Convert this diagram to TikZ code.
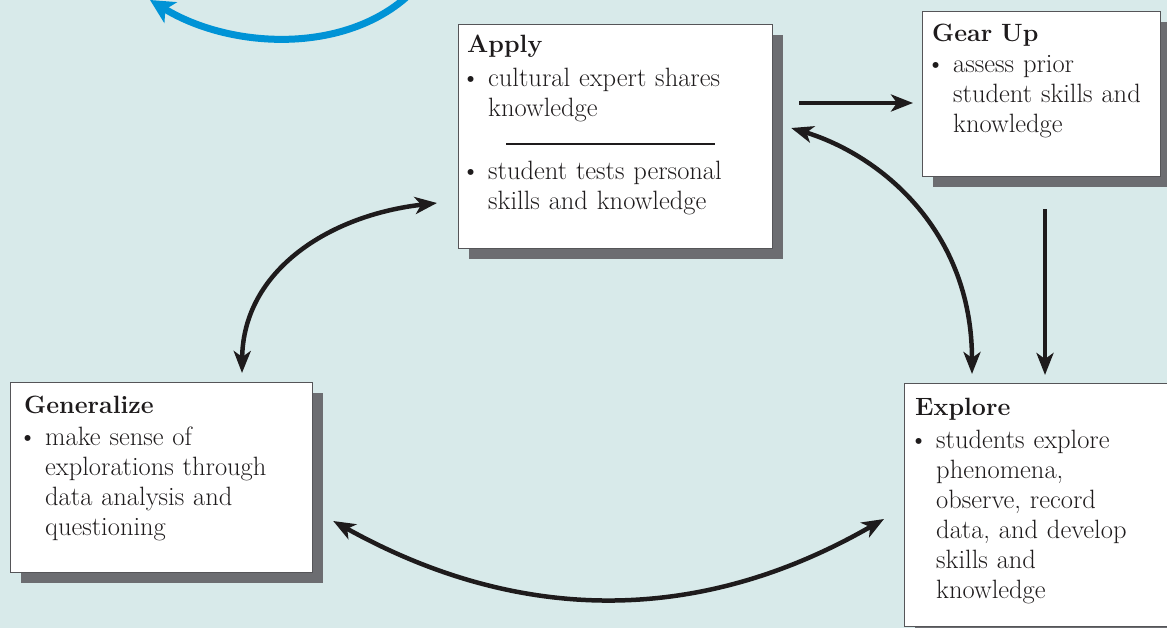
\documentclass[tikz,border=0pt]{standalone}
\usetikzlibrary{arrows.meta,shadows,calc}
\definecolor{bg}{RGB}{216,234,234}
\definecolor{shade}{RGB}{108,109,113}
\definecolor{ink}{RGB}{30,27,28}
\definecolor{bluearc}{RGB}{0,147,214}
\definecolor{frame}{RGB}{85,85,88}
\newcommand\bul[1]{\par\hangindent=21pt\hangafter=0\noindent\llap{\textbullet\hspace{8pt}}#1\par}
\newcommand\ttl[1]{{\fontsize{25}{30}\selectfont\bfseries #1}\par}
\begin{document}
\begin{tikzpicture}[x=1pt,y=-1pt,
  box/.style={draw=frame, line width=1.2pt, fill=white, inner sep=0pt, anchor=north west,
    drop shadow={shadow xshift=10pt, shadow yshift=-10pt, fill=shade, opacity=1}},
  txt/.style={anchor=base west, inner sep=0pt, text width=320pt, align=left, text=ink,
    font=\fontsize{26.5}{30}\selectfont},
  >={Stealth[length=22pt,width=17pt,inset=6pt]},
  conn/.style={draw=ink, line width=4.5pt},
  bluec/.style={draw=bluearc, line width=7pt, -{Stealth[length=24pt,width=24pt,inset=6pt]}}
]
\useasboundingbox (0,0) rectangle (1167,628);
\clip (0,0) rectangle (1167,628);
\fill[bg] (0,0) rectangle (1167,628);

% blue arc (continuation from outside)
\coordinate (blueStart) at (414,-10);
\coordinate (blueEnd) at (150,0);
\draw[bluec] (blueStart) .. controls (350,55) and (232,50) .. (blueEnd);

% boxes
\node[box, minimum width=314pt, minimum height=224pt] (applyBox) at (458,24) {};
\node[box, minimum width=238pt, minimum height=165pt] (gearBox) at (922,11) {};
\node[box, minimum width=302pt, minimum height=190pt] (genBox) at (10,382) {};
\node[box, minimum width=280pt, minimum height=243pt] (expBox) at (904,383) {};

% texts
\node[txt] (applyText) at (467,53) {\ttl{Apply}\vspace{4pt}%
  \bul{cultural expert shares\newline knowledge}\vspace{33pt}%
  \bul{student tests personal\newline skills and knowledge}};
\draw[ink, line width=2.5pt] ($(applyBox.north west)+(48,120)$) -- ($(applyBox.north west)+(257,120)$);

\node[txt] (gearText) at (932,42) {\ttl{Gear Up}\vspace{1pt}%
  \bul{assess prior\newline student skills and\newline knowledge}};

\node[txt] (genText) at (24,413) {\ttl{Generalize}\vspace{2pt}%
  \bul{make sense of\newline explorations through\newline data analysis and\newline questioning}};

\node[txt] (expText) at (915,415) {\ttl{Explore}\vspace{3pt}%
  \bul{students explore\newline phenomena,\newline observe, record\newline data, and develop\newline skills and\newline knowledge}};

% connector end points
\coordinate (p1) at ($(applyBox.north east)+(26,79)$);
\coordinate (p2) at ($(gearBox.north west)+(-9,92)$);
\coordinate (p3) at ($(gearBox.south west)+(123,32)$);
\coordinate (p4) at ($(expBox.north west)+(141,-8)$);
\coordinate (p5) at ($(applyBox.north east)+(18,104)$);
\coordinate (p6) at ($(expBox.north west)+(68,-9)$);
\coordinate (p7) at ($(applyBox.north west)+(-21,179)$);
\coordinate (p8) at ($(genBox.north west)+(232,-9)$);
\coordinate (p9) at ($(genBox.north east)+(20,139)$);
\coordinate (p10) at ($(expBox.north west)+(-20,136)$);

\draw[conn, ->] (p1) -- (p2);
\draw[conn, ->] (p3) -- (p4);
\draw[conn, <->] (p5) .. controls (880,155) and (972,230) .. (p6);
\draw[conn, <->] (p7) .. controls (330,215) and (243,270) .. (p8);
\draw[conn, <->] (p9) .. controls (520,625) and (700,625) .. (p10);
\end{tikzpicture}
\end{document}
